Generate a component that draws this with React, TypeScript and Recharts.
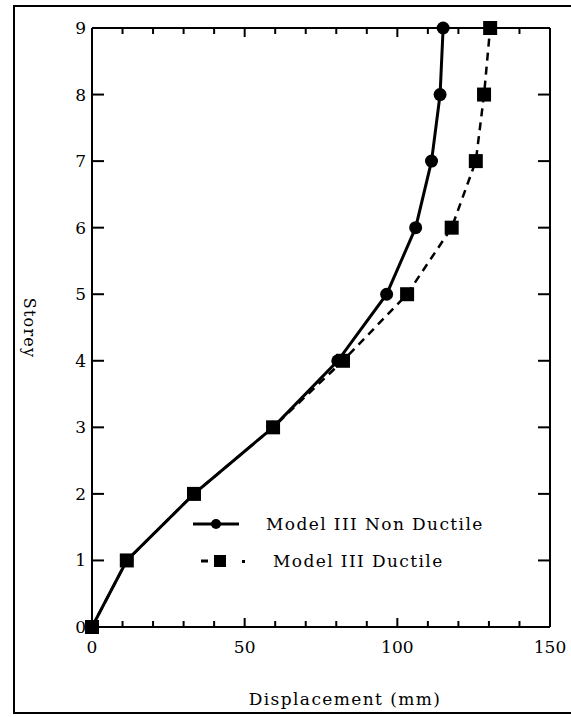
import React from "react"
import { LineChart, Line, XAxis, YAxis } from "recharts"

// storey levels and peak displacements (mm)
const storeys = [0, 1, 2, 3, 4, 5, 6, 7, 8, 9]
const nonDuctile = [0, 11.4, 33.4, 59.3, 80.5, 96.5, 106, 111.2, 114, 115]
const ductile = [0, 11.4, 33.4, 59.3, 82.2, 103.2, 117.8, 125.7, 128.4, 130.4]

const xTicks = [0, 10, 20, 30, 40, 50, 60, 70, 80, 90, 100, 110, 120, 130, 140, 150]
const yTicks = [0, 1, 2, 3, 4, 5, 6, 7, 8, 9]

const seriesNames = ["Model III Non Ductile", "Model III Ductile"]

const data = storeys.map((s, i) => ({ storey: s, nd: nonDuctile[i], d: ductile[i] }))

const FONT = "'DejaVu Serif', serif"
const MARGIN_TOP = 27
const TOP_AXIS_H = 1
const PLOT_TOP = MARGIN_TOP + TOP_AXIS_H

// bottom ticks also draw the mirrored tick on the top frame
const BottomTick = (props: any) => {
  const { x, y, payload, top } = props
  const major = payload.value % 50 === 0
  const len = major ? 9 : 6
  return (
    <g>
      <line x1={x} x2={x} y1={y} y2={y - len} stroke="#000" strokeWidth={2} />
      <line x1={x} x2={x} y1={top} y2={top + len} stroke="#000" strokeWidth={2} />
      {major && (
        <text x={x} y={y + 26} textAnchor="middle" fontFamily={FONT} fontSize={17} fill="#000">
          {payload.value}
        </text>
      )}
    </g>
  )
}

const LeftTick = (props: any) => {
  const { x, y, payload } = props
  return (
    <g>
      <line x1={x} x2={x + 12} y1={y} y2={y} stroke="#000" strokeWidth={2} />
      <text x={x - 6} y={y + 6} textAnchor="end" fontFamily={FONT} fontSize={17} fill="#000">
        {payload.value}
      </text>
    </g>
  )
}

const RightTick = (props: any) => {
  const { x, y } = props
  return <line x1={x} x2={x - 12} y1={y} y2={y} stroke="#000" strokeWidth={2} />
}

const CircleDot = (props: any) => {
  const { cx, cy, index } = props
  return <circle key={"c" + index} cx={cx} cy={cy} r={6.5} fill="#000" />
}

const SquareDot = (props: any) => {
  const { cx, cy, index } = props
  return <rect key={"s" + index} x={cx - 7} y={cy - 7} width={14} height={14} fill="#000" />
}

const LegendBox = () => (
  <svg width={330} height={70}>
    <line x1={3} x2={49} y1={14} y2={14} stroke="#000" strokeWidth={3} />
    <circle cx={26} cy={14} r={5} fill="#000" />
    <text x={76} y={20} fontFamily={FONT} fontSize={17} letterSpacing={1.4} fill="#000">
      {seriesNames[0]}
    </text>
    <line x1={11} x2={18} y1={51} y2={51} stroke="#000" strokeWidth={3} />
    <rect x={24} y={45} width={12} height={12} fill="#000" />
    <rect x={52} y={50} width={3} height={3} fill="#000" />
    <text x={83} y={57} fontFamily={FONT} fontSize={17} letterSpacing={1.4} fill="#000">
      {seriesNames[1]}
    </text>
  </svg>
)

export default function App() {
  return (
    <div style={{ position: "fixed", left: 0, top: 0, width: 571, height: 717, overflow: "hidden", background: "#fff" }}>
      <div
        style={{
          position: "absolute",
          left: 13,
          top: 5,
          width: 600,
          height: 709,
          border: "2px solid #000",
          boxSizing: "border-box",
        }}
      />
      <div style={{ position: "absolute", left: 0, top: 0 }}>
        <LineChart
          width={571}
          height={717}
          data={data}
          layout="vertical"
          margin={{ top: MARGIN_TOP, right: 20, bottom: 0, left: 0 }}
        >
          <XAxis
            xAxisId="top"
            orientation="top"
            type="number"
            domain={[0, 150]}
            height={TOP_AXIS_H}
            tickLine={false}
            tick={false}
            axisLine={{ stroke: "#000", strokeWidth: 2 }}
          />
          <XAxis
            xAxisId="bottom"
            type="number"
            domain={[0, 150]}
            ticks={xTicks}
            interval={0}
            height={90}
            tickSize={0}
            tickMargin={0}
            tickLine={false}
            axisLine={{ stroke: "#000", strokeWidth: 2 }}
            tick={<BottomTick top={PLOT_TOP} />}
            label={{
              content: () => (
                <text x={345} y={705} textAnchor="middle" fontFamily={FONT} fontSize={17} letterSpacing={1.4} fill="#000">
                  Displacement (mm)
                </text>
              ),
            }}
          />
          <YAxis
            yAxisId="left"
            type="number"
            dataKey="storey"
            domain={[0, 9]}
            reversed
            ticks={yTicks}
            interval={0}
            width={92}
            tickSize={0}
            tickMargin={0}
            tickLine={false}
            axisLine={{ stroke: "#000", strokeWidth: 2 }}
            tick={<LeftTick />}
            label={{
              content: () => (
                <text
                  x={29}
                  y={328}
                  textAnchor="middle"
                  dominantBaseline="central"
                  transform="rotate(90 29 328)"
                  fontFamily={FONT}
                  fontSize={16}
                  letterSpacing={1.2}
                  fill="#000"
                >
                  Storey
                </text>
              ),
            }}
          />
          <YAxis
            yAxisId="right"
            orientation="right"
            type="number"
            dataKey="storey"
            domain={[0, 9]}
            reversed
            ticks={yTicks}
            interval={0}
            width={1}
            tickSize={0}
            tickMargin={0}
            tickLine={false}
            axisLine={{ stroke: "#000", strokeWidth: 2 }}
            tick={<RightTick />}
          />
          <Line
            xAxisId="bottom"
            yAxisId="left"
            dataKey="nd"
            name={seriesNames[0]}
            stroke="#000"
            strokeWidth={3}
            dot={<CircleDot />}
            isAnimationActive={false}
          />
          <Line
            xAxisId="bottom"
            yAxisId="left"
            dataKey="d"
            name={seriesNames[1]}
            stroke="#000"
            strokeWidth={2.5}
            strokeDasharray="8 6"
            dot={<SquareDot />}
            isAnimationActive={false}
          />
        </LineChart>
      </div>
      <div style={{ position: "absolute", left: 190, top: 510 }}>
        <LegendBox />
      </div>
    </div>
  )
}
